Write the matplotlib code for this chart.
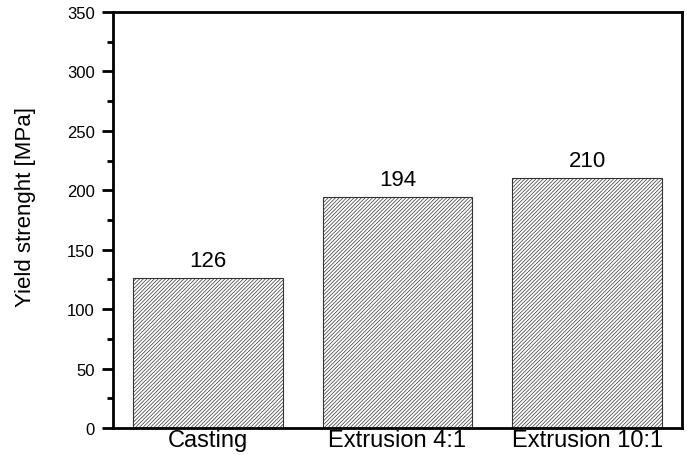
import matplotlib.pyplot as plt
import numpy as np

plt.rcParams['font.family'] = ['Liberation Sans', 'DejaVu Sans']
plt.rcParams['hatch.linewidth'] = 0.5
plt.rcParams['hatch.color'] = '#666666'

categories = ['Casting', 'Extrusion 4:1', 'Extrusion 10:1']
yield_strength = [126, 194, 210]

fig = plt.figure(figsize=(6.87, 4.56), dpi=100)
ax = fig.add_axes([0.1645, 0.0592, 0.8282, 0.9123])

x = np.arange(len(categories))
bars = ax.bar(x, yield_strength, width=0.79, color='white', edgecolor='#333333',
              linewidth=0.8, hatch='/////////')

for xi, v in zip(x, yield_strength):
    ax.text(xi, v + 6, str(v), ha='center', va='bottom', fontsize=16)

ax.set_xlim(-0.5, 2.5)
ax.set_ylim(0, 350)
ax.set_yticks(np.arange(0, 351, 50))
ax.set_yticks(np.arange(25, 350, 50), minor=True)
ax.set_xticks(x)
ax.set_xticklabels(categories, fontsize=17)
ax.tick_params(axis='x', length=0, pad=1)
ax.tick_params(axis='y', which='major', length=8, width=2, labelsize=12, pad=5, direction='out')
ax.tick_params(axis='y', which='minor', length=4, width=2, direction='out')
ax.set_ylabel('Yield strenght [MPa]', fontsize=16)
ax.yaxis.set_label_coords(-0.135, 0.534)

for s in ax.spines.values():
    s.set_linewidth(2)

fig.savefig('out.png', dpi=100)
